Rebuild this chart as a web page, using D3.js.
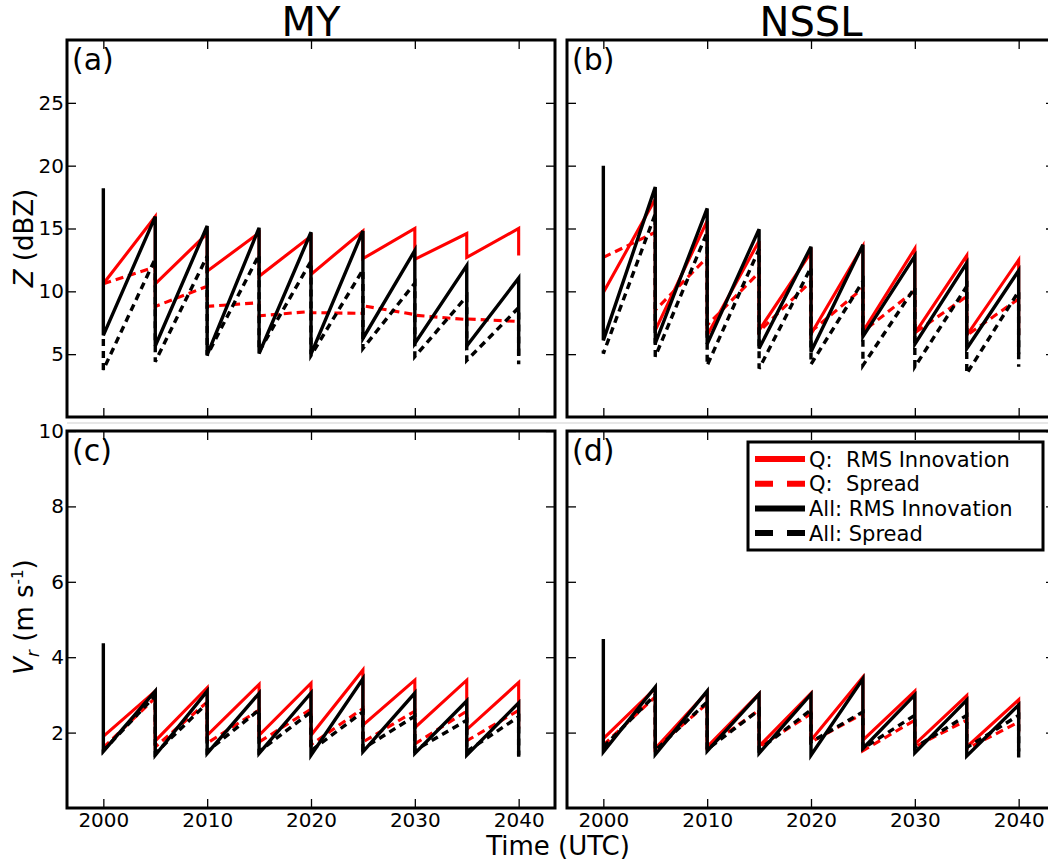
<!DOCTYPE html>
<html>
<head>
<meta charset="utf-8">
<style>
body { margin: 0; background: #fff; }
svg { display: block; }
text { font-family: "DejaVu Sans", Verdana, sans-serif; fill: #000; }
</style>
</head>
<body>
<svg id="fig" width="1048" height="863"></svg>
<script src="https://d3js.org/d3.v7.min.js"></script>
<script>
// analysis times (UTC, 5 min cycles); each value pair is forecast (prior) then analysis (post)
const times = [2000, 2005, 2010, 2015, 2020, 2025, 2030, 2035, 2040];
const x_ticks = [2000, 2010, 2020, 2030, 2040];
const z_ticks = [5, 10, 15, 20, 25];
const vr_ticks = [2, 4, 6, 8, 10];

// (a) MY, reflectivity
const my_z_q_rms_prior   = [10.6, 15.95, 14.6, 14.65, 14.4, 14.8, 15.0, 14.6, 15.0];
const my_z_q_rms_post    = [10.6, 10.6, 11.6, 11.2, 11.35, 12.6, 12.55, 12.7, 12.85];
const my_z_q_spr_prior   = [10.6, 11.95, 10.4, 9.1, 8.4, 8.25, 8.15, 7.75, 7.6];
const my_z_q_spr_post    = [10.6, 8.8, 8.8, 8.05, 8.3, 8.85, 8.1, 7.8, 7.6];
const my_z_all_rms_prior = [18.2, 15.95, 15.2, 15.05, 14.7, 14.8, 13.25, 12.05, 11.05];
const my_z_all_rms_post  = [6.5, 5.65, 4.95, 5.05, 5.0, 6.25, 5.85, 5.65, 4.85];
const my_z_all_spr_prior = [6.2, 12.6, 12.8, 12.9, 12.4, 11.7, 10.65, 9.6, 8.7];
const my_z_all_spr_post  = [3.75, 4.4, 4.9, 5.2, 4.9, 5.45, 4.8, 4.5, 4.2];

// (b) NSSL, reflectivity
const nssl_z_q_rms_prior   = [9.9, 17.35, 15.6, 14.0, 13.1, 13.6, 13.4, 12.85, 12.5];
const nssl_z_q_rms_post    = [9.9, 6.9, 6.5, 6.9, 6.6, 6.8, 6.65, 6.5, 6.5];
const nssl_z_q_spr_prior   = [12.7, 14.7, 12.7, 11.5, 10.8, 10.25, 10.05, 9.6, 9.4];
const nssl_z_q_spr_post    = [12.7, 8.5, 7.3, 6.8, 6.8, 6.8, 6.7, 6.5, 9.4];
const nssl_z_all_rms_prior = [20.0, 18.3, 16.6, 14.95, 13.55, 13.7, 12.8, 12.25, 11.65];
const nssl_z_all_rms_post  = [6.1, 5.85, 5.8, 5.45, 5.2, 6.4, 5.8, 5.45, 5.0];
const nssl_z_all_spr_prior = [5.3, 16.15, 14.7, 13.35, 11.9, 10.8, 10.3, 10.4, 10.0];
const nssl_z_all_spr_post  = [5.05, 4.8, 4.1, 3.85, 4.2, 4.1, 4.0, 3.45, 4.0];

// (c) MY, radial velocity
const my_vr_q_rms_prior   = [1.9, 3.1, 3.19, 3.28, 3.31, 3.66, 3.39, 3.39, 3.33];
const my_vr_q_rms_post    = [1.9, 1.78, 1.93, 1.93, 1.93, 2.2, 2.13, 2.08, 2.1];
const my_vr_q_spr_prior   = [1.6, 2.92, 2.81, 2.6, 2.62, 2.64, 2.57, 2.57, 2.59];
const my_vr_q_spr_post    = [1.6, 1.62, 1.72, 1.75, 1.68, 1.75, 1.7, 1.78, 2.59];
const my_vr_all_rms_prior = [4.37, 3.1, 3.1, 3.04, 3.05, 3.43, 3.05, 2.84, 2.79];
const my_vr_all_rms_post  = [1.5, 1.4, 1.45, 1.45, 1.4, 1.49, 1.45, 1.4, 1.36];
const my_vr_all_spr_prior = [1.55, 2.98, 2.78, 2.6, 2.55, 2.55, 2.44, 2.33, 2.42];
const my_vr_all_spr_post  = [1.52, 1.45, 1.5, 1.5, 1.52, 1.57, 1.53, 1.5, 1.4];

// (d) NSSL, radial velocity
const nssl_vr_q_rms_prior   = [1.84, 3.17, 3.08, 3.03, 3.04, 3.47, 3.1, 2.98, 2.87];
const nssl_vr_q_rms_post    = [1.84, 1.58, 1.62, 1.64, 1.8, 1.8, 1.69, 1.62, 2.0];
const nssl_vr_q_spr_prior   = [1.67, 2.95, 2.77, 2.6, 2.5, 2.5, 2.33, 2.33, 2.28];
const nssl_vr_q_spr_post    = [1.67, 1.58, 1.62, 1.62, 1.75, 1.52, 1.62, 1.57, 2.28];
const nssl_vr_all_rms_prior = [4.48, 3.21, 3.1, 3.02, 3.02, 3.43, 3.0, 2.86, 2.73];
const nssl_vr_all_rms_post  = [1.49, 1.42, 1.51, 1.45, 1.4, 1.58, 1.46, 1.38, 1.34];
const nssl_vr_all_spr_prior = [1.62, 3.0, 2.81, 2.6, 2.6, 2.55, 2.46, 2.46, 2.46];
const nssl_vr_all_spr_post  = [1.62, 1.53, 1.55, 1.55, 1.75, 1.58, 1.6, 1.6, 1.5];

const legend_names = ["Q:  RMS Innovation", "Q:  Spread", "All: RMS Innovation", "All: Spread"];

const styles = [
    {color: "#ff0000", dash: null,  width: 3.1},
    {color: "#ff0000", dash: "8,5", width: 3.1},
    {color: "#000000", dash: null,  width: 3.4},
    {color: "#000000", dash: "7,5", width: 3.4}
];

const panel_w = 488;
const panel_h = 377;
const x_domain = [1996.5, 2043.5];

const panels = [
    {label: "(a)", x0: 67,  y0: 40,  ydom: [0, 30], yticks: z_ticks,  ylab: true,  xlab: false,
     series: [[my_z_q_rms_prior, my_z_q_rms_post], [my_z_q_spr_prior, my_z_q_spr_post],
              [my_z_all_rms_prior, my_z_all_rms_post], [my_z_all_spr_prior, my_z_all_spr_post]]},
    {label: "(b)", x0: 567, y0: 40,  ydom: [0, 30], yticks: z_ticks,  ylab: false, xlab: false,
     series: [[nssl_z_q_rms_prior, nssl_z_q_rms_post], [nssl_z_q_spr_prior, nssl_z_q_spr_post],
              [nssl_z_all_rms_prior, nssl_z_all_rms_post], [nssl_z_all_spr_prior, nssl_z_all_spr_post]]},
    {label: "(c)", x0: 67,  y0: 431, ydom: [0, 10], yticks: vr_ticks, ylab: true,  xlab: true,
     series: [[my_vr_q_rms_prior, my_vr_q_rms_post], [my_vr_q_spr_prior, my_vr_q_spr_post],
              [my_vr_all_rms_prior, my_vr_all_rms_post], [my_vr_all_spr_prior, my_vr_all_spr_post]]},
    {label: "(d)", x0: 567, y0: 431, ydom: [0, 10], yticks: vr_ticks, ylab: false, xlab: true, legend: true,
     series: [[nssl_vr_q_rms_prior, nssl_vr_q_rms_post], [nssl_vr_q_spr_prior, nssl_vr_q_spr_post],
              [nssl_vr_all_rms_prior, nssl_vr_all_rms_post], [nssl_vr_all_spr_prior, nssl_vr_all_spr_post]]}
];

const svg = d3.select("#fig");
svg.append("rect").attr("width", 1048).attr("height", 863).attr("fill", "#fff");

// faint line above the lower row
svg.append("line")
    .attr("x1", 67).attr("x2", 1048).attr("y1", 423).attr("y2", 423)
    .style("stroke", "#cfcfcf").style("stroke-width", 1.2);

panels.forEach(drawPanel);

function styleAxis(g) {
    g.select(".domain").remove();
    g.selectAll(".tick line").style("stroke", "#000").style("stroke-width", 1.3);
    g.selectAll(".tick text")
        .attr("font-family", "DejaVu Sans, Verdana, sans-serif")
        .attr("font-size", 20)
        .style("fill", "#000");
}

function drawPanel(p) {
    const x = d3.scaleLinear().domain(x_domain).range([p.x0, p.x0 + panel_w]);
    const y = d3.scaleLinear().domain(p.ydom).range([p.y0 + panel_h, p.y0]);
    const g = svg.append("g");

    const line = d3.line()
        .x(d => x(d[0]))
        .y(d => y(d[1]));

    p.series.forEach((s, k) => {
        // sawtooth: forecast value then analysis value at every cycle
        const pts = [];
        times.forEach((t, i) => {
            pts.push([t, s[0][i]]);
            pts.push([t, s[1][i]]);
        });
        g.append("path")
            .attr("d", line(pts))
            .style("fill", "none")
            .style("stroke", styles[k].color)
            .style("stroke-width", styles[k].width)
            .style("stroke-dasharray", styles[k].dash)
            .style("stroke-linejoin", "miter");
    });

    // inward ticks on all four sides
    g.append("g").attr("transform", `translate(${p.x0},0)`)
        .call(d3.axisLeft(y).tickValues(p.yticks).tickSizeInner(-9).tickSizeOuter(0).tickPadding(3)
            .tickFormat(p.ylab ? d3.format("d") : ""))
        .call(styleAxis);
    g.append("g").attr("transform", `translate(${p.x0 + panel_w},0)`)
        .call(d3.axisRight(y).tickValues(p.yticks).tickSizeInner(-9).tickSizeOuter(0).tickFormat(""))
        .call(styleAxis);
    g.append("g").attr("transform", `translate(0,${p.y0})`)
        .call(d3.axisTop(x).tickValues(x_ticks).tickSizeInner(-9).tickSizeOuter(0).tickFormat(""))
        .call(styleAxis);
    g.append("g").attr("transform", `translate(0,${p.y0 + panel_h})`)
        .call(d3.axisBottom(x).tickValues(x_ticks).tickSizeInner(-9).tickSizeOuter(0).tickPadding(5)
            .tickFormat(p.xlab ? d3.format("d") : ""))
        .call(styleAxis);

    g.append("rect")
        .attr("x", p.x0).attr("y", p.y0)
        .attr("width", panel_w).attr("height", panel_h)
        .style("fill", "none").style("stroke", "#000").style("stroke-width", 3);

    g.append("text")
        .attr("x", p.x0 + 5).attr("y", p.y0 + 30)
        .attr("font-size", 30)
        .text(p.label);

    if (p.legend) drawLegend(g);
}

function drawLegend(g) {
    const lx = 748, ly = 442;
    g.append("rect")
        .attr("x", lx).attr("y", ly).attr("width", 295).attr("height", 108)
        .style("fill", "#fff").style("stroke", "#000").style("stroke-width", 3);
    legend_names.forEach((name, k) => {
        const cy = ly + 17 + k * 24.7;
        g.append("line")
            .attr("x1", lx + 7).attr("x2", lx + 57).attr("y1", cy).attr("y2", cy)
            .style("stroke", styles[k].color)
            .style("stroke-width", 6)
            .style("stroke-dasharray", styles[k].dash ? "18,14" : null);
        g.append("text")
            .attr("x", lx + 61).attr("y", cy).attr("dy", "0.36em")
            .attr("font-size", 21)
            .style("white-space", "pre")
            .attr("xml:space", "preserve")
            .text(name);
    });
}

// column titles
svg.append("text").attr("x", 311).attr("y", 36).attr("text-anchor", "middle")
    .attr("font-size", 40).text("MY");
svg.append("text").attr("x", 811).attr("y", 36).attr("text-anchor", "middle")
    .attr("font-size", 40).text("NSSL");

// axis titles
const zl = svg.append("text").attr("transform", "translate(33,238) rotate(-90)")
    .attr("text-anchor", "middle").attr("font-size", 26);
zl.append("tspan").style("font-style", "italic").text("Z");
zl.append("tspan").text(" (dBZ)");

const vl = svg.append("text").attr("transform", "translate(33,617) rotate(-90)")
    .attr("text-anchor", "middle").attr("font-size", 26);
vl.append("tspan").style("font-style", "italic").text("V");
vl.append("tspan").style("font-style", "italic").attr("font-size", 17).attr("dy", 6).text("r");
vl.append("tspan").attr("dy", -6).text(" (m s");
vl.append("tspan").attr("font-size", 15).attr("dy", -10).text("-1");
vl.append("tspan").attr("dy", 10).text(")");

svg.append("text").attr("x", 558).attr("y", 855).attr("text-anchor", "middle")
    .attr("font-size", 26).text("Time (UTC)");
</script>
</body>
</html>
